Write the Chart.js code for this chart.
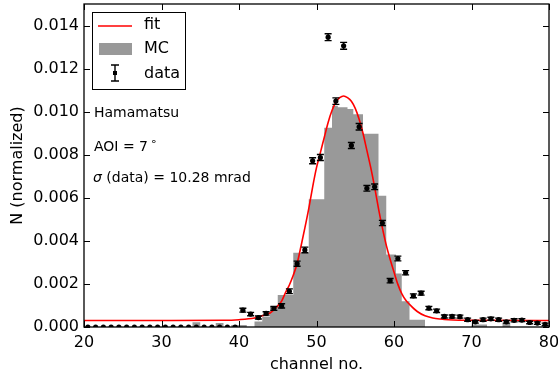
<!DOCTYPE html>
<html>
<head>
<meta charset="utf-8">
<script src="https://cdn.jsdelivr.net/npm/chart.js@4.4.0/dist/chart.umd.min.js"></script>
<style>
  html, body { margin: 0; padding: 0; background: #fff; }
</style>
</head>
<body>
<canvas id="chart" width="558" height="381"></canvas>
<script>
// measured data (channel centres) with errors
const dataX = [20.5, 21.5, 22.5, 23.5, 24.5, 25.5, 26.5, 27.5, 28.5, 29.5,
  30.5, 31.5, 32.5, 33.5, 34.5, 35.5, 36.5, 37.5, 38.5, 39.5,
  40.5, 41.5, 42.5, 43.5, 44.5, 45.5, 46.5, 47.5, 48.5, 49.5,
  50.5, 51.5, 52.5, 53.5, 54.5, 55.5, 56.5, 57.5, 58.5, 59.5,
  60.5, 61.5, 62.5, 63.5, 64.5, 65.5, 66.5, 67.5, 68.5, 69.5,
  70.5, 71.5, 72.5, 73.5, 74.5, 75.5, 76.5, 77.5, 78.5, 79.5];
const dataY = [0, 0, 0, 0, 0, 0, 0, 0, 0, 0,
  0, 0, 0, 0, 0, 0, 0, 0, 0, 0,
  0.00078, 0.00060, 0.00044, 0.00063, 0.00086, 0.00098, 0.00166, 0.00294, 0.00358, 0.00772,
  0.00787, 0.01346, 0.01049, 0.01306, 0.00843, 0.00930, 0.00644, 0.00651, 0.00483, 0.00215,
  0.00318, 0.00252, 0.00145, 0.00157, 0.00088, 0.00075, 0.00049, 0.00049, 0.00048, 0.00034,
  0.00024, 0.00034, 0.00038, 0.00034, 0.00024, 0.00031, 0.00032, 0.00021, 0.00018, 0.00012];
const dataErr = [0, 0, 0, 0, 0, 0, 0, 0, 0, 0,
  0, 0, 0, 0, 0, 0, 0, 0, 0, 0,
  0.00009, 0.00008, 0.00007, 0.00008, 0.00009, 0.00010, 0.00011, 0.00012, 0.00013, 0.00014,
  0.00014, 0.00016, 0.00015, 0.00016, 0.00014, 0.00015, 0.00013, 0.00013, 0.00012, 0.00010,
  0.00011, 0.00010, 0.00009, 0.00009, 0.00008, 0.00008, 0.00007, 0.00007, 0.00007, 0.00007,
  0.00006, 0.00007, 0.00007, 0.00007, 0.00006, 0.00007, 0.00007, 0.00006, 0.00006, 0.00006];

// fit curve samples
const fitX = [20, 30, 38, 40, 42, 43, 44, 45, 45.5, 46, 46.5, 47, 47.5, 48, 48.5, 49, 49.5, 50,
  50.5, 51, 51.5, 52, 52.5, 53, 53.5, 54, 54.5, 55, 55.5, 56, 56.5, 57, 57.5, 58, 58.5, 59,
  59.5, 60, 60.5, 61, 61.5, 62, 63, 64, 65, 66, 67, 70, 80];
const fitY = [0.00030, 0.00030, 0.00031, 0.00034, 0.00042, 0.00052, 0.00065, 0.00098, 0.00120,
  0.00160, 0.00195, 0.00240, 0.00295, 0.00375, 0.00460, 0.00550, 0.00650, 0.00740, 0.00810,
  0.00880, 0.00950, 0.01005, 0.01045, 0.01065, 0.01073, 0.01065, 0.01048, 0.01015, 0.00965,
  0.00900, 0.00820, 0.00740, 0.00650, 0.00550, 0.00460, 0.00380, 0.00315, 0.00255, 0.00198,
  0.00155, 0.00125, 0.00105, 0.00072, 0.00052, 0.00042, 0.00037, 0.00034, 0.00031, 0.00030];

// MC histogram: bin edges and bin contents
const mcEdges = [20, 34, 35, 37, 38, 39, 41, 42, 43, 44, 45, 47, 49, 51, 52, 52.75, 54, 54.75,
  56, 58, 59, 60.25, 61, 62, 64, 70, 72, 74, 75, 80];
const mcHeights = [0, 0.00022, 0, 0.00018, 0, 0.00009, 0, 0.00026, 0.00049, 0.00095, 0.00149,
  0.00345, 0.00593, 0.00925, 0.01028, 0.01020, 0.01012, 0.00988, 0.00898, 0.00610, 0.00337,
  0.00249, 0.00120, 0.00034, 0, 0.00012, 0, 0.00020, 0];

const xTicks = [20, 30, 40, 50, 60, 70, 80];
const yTicks = [0, 0.002, 0.004, 0.006, 0.008, 0.010, 0.012, 0.014];

const FONT = "'DejaVu Sans', sans-serif";
Chart.defaults.font.family = FONT;
Chart.defaults.color = '#000';

const mcPoints = mcEdges.map((e, i) => ({ x: e, y: i < mcHeights.length ? mcHeights[i] : 0 }));
const fitPoints = fitX.map((v, i) => ({ x: v, y: fitY[i] }));
const dataPoints = dataX.map((v, i) => ({ x: v, y: dataY[i] }));

// error bars for the data points
const errorBars = {
  id: 'errorBars',
  afterDatasetsDraw(chart) {
    const { ctx, chartArea: a, scales: { x, y } } = chart;
    ctx.save();
    ctx.beginPath();
    ctx.rect(a.left, a.top, a.right - a.left, a.bottom - a.top);
    ctx.clip();
    ctx.strokeStyle = '#000';
    ctx.lineWidth = 1.4;
    dataX.forEach((cx, i) => {
      if (!dataErr[i]) return;
      const px = x.getPixelForValue(cx);
      const y1 = y.getPixelForValue(dataY[i] - dataErr[i]);
      const y2 = y.getPixelForValue(dataY[i] + dataErr[i]);
      ctx.beginPath();
      ctx.moveTo(px, y1); ctx.lineTo(px, y2);
      ctx.moveTo(px - 3.5, y1); ctx.lineTo(px + 3.5, y1);
      ctx.moveTo(px - 3.5, y2); ctx.lineTo(px + 3.5, y2);
      ctx.stroke();
    });
    ctx.restore();
  }
};

// matplotlib style frame with inward ticks on all sides
const frame = {
  id: 'frame',
  afterDatasetsDraw(chart) {
    const { ctx, chartArea: a, scales: { x, y } } = chart;
    ctx.save();
    ctx.strokeStyle = '#000';
    ctx.lineWidth = 1;
    ctx.beginPath();
    xTicks.forEach(t => {
      const px = Math.round(x.getPixelForValue(t)) + 0.5;
      ctx.moveTo(px, a.bottom); ctx.lineTo(px, a.bottom - 6);
      ctx.moveTo(px, a.top); ctx.lineTo(px, a.top + 6);
    });
    yTicks.forEach(t => {
      const py = Math.round(y.getPixelForValue(t)) + 0.5;
      ctx.moveTo(a.left, py); ctx.lineTo(a.left + 6, py);
      ctx.moveTo(a.right, py); ctx.lineTo(a.right - 6, py);
    });
    ctx.stroke();
    ctx.lineWidth = 1.3;
    ctx.strokeRect(a.left, a.top, a.right - a.left, a.bottom - a.top);
    ctx.restore();
  }
};

// legend box and text annotations
const notes = {
  id: 'notes',
  afterDraw(chart) {
    const { ctx, chartArea: a } = chart;
    const lx = a.left + 8, ly = a.top + 8;
    ctx.save();
    ctx.fillStyle = '#fff';
    ctx.fillRect(lx, ly, 93, 77);
    ctx.strokeStyle = '#000';
    ctx.lineWidth = 1;
    ctx.strokeRect(lx + 0.5, ly + 0.5, 93, 77);

    ctx.strokeStyle = '#ff0000';
    ctx.lineWidth = 1.5;
    ctx.beginPath();
    ctx.moveTo(lx + 6, ly + 14); ctx.lineTo(lx + 40, ly + 14);
    ctx.stroke();

    ctx.fillStyle = '#999999';
    ctx.fillRect(lx + 7, ly + 31, 33, 12);

    const ex = lx + 23;
    ctx.strokeStyle = '#000';
    ctx.lineWidth = 1.4;
    ctx.beginPath();
    ctx.moveTo(ex, ly + 53); ctx.lineTo(ex, ly + 69);
    ctx.moveTo(ex - 4, ly + 53); ctx.lineTo(ex + 4, ly + 53);
    ctx.moveTo(ex - 4, ly + 69); ctx.lineTo(ex + 4, ly + 69);
    ctx.stroke();
    ctx.fillStyle = '#000';
    ctx.fillRect(ex - 2, ly + 59, 4, 4);

    ctx.font = '16px ' + FONT;
    ctx.textBaseline = 'middle';
    ctx.fillText('fit', lx + 52, ly + 13);
    ctx.fillText('MC', lx + 52, ly + 37);
    ctx.fillText('data', lx + 52, ly + 62);

    ctx.font = '14px ' + FONT;
    ctx.textBaseline = 'alphabetic';
    const tx = a.left + 10;
    ctx.fillText('Hamamatsu', tx, a.top + 113);
    ctx.fillText('AOI = 7', tx, a.top + 147);
    const w7 = ctx.measureText('AOI = 7').width;
    ctx.font = '11px ' + FONT;
    ctx.fillText('\u2218', tx + w7 + 2, a.top + 141);
    ctx.font = 'italic 14px ' + FONT;
    ctx.fillText('\u03c3', tx - 1, a.top + 178);
    const ws = ctx.measureText('\u03c3').width;
    ctx.font = '14px ' + FONT;
    ctx.fillText(' (data) = 10.28 mrad', tx - 1 + ws, a.top + 178);
    ctx.restore();
  }
};

new Chart(document.getElementById('chart'), {
  type: 'line',
  data: {
    datasets: [
      {
        label: 'data',
        data: dataPoints,
        showLine: false,
        pointRadius: 2.6,
        pointBackgroundColor: '#000',
        pointBorderColor: '#000',
        pointBorderWidth: 0,
        clip: 0
      },
      {
        label: 'fit',
        data: fitPoints,
        borderColor: '#ff0000',
        borderWidth: 1.6,
        pointRadius: 0,
        cubicInterpolationMode: 'monotone',
        fill: false
      },
      {
        label: 'MC',
        data: mcPoints,
        stepped: true,
        borderWidth: 0,
        borderColor: 'rgba(0,0,0,0)',
        backgroundColor: '#999999',
        pointRadius: 0,
        fill: 'origin'
      }
    ]
  },
  options: {
    responsive: false,
    animation: false,
    events: [],
    layout: { padding: { top: 2, right: 9, left: 0, bottom: 0 } },
    plugins: { legend: { display: false }, tooltip: { enabled: false } },
    scales: {
      x: {
        type: 'linear',
        min: 20,
        max: 80,
        afterBuildTicks: s => { s.ticks = xTicks.map(v => ({ value: v })); },
        afterFit: s => { s.height = 54; s.paddingLeft = 0; s.paddingRight = 0; },
        grid: { display: false, drawTicks: false },
        border: { display: false },
        ticks: { font: { size: 16 }, padding: 6, maxRotation: 0, callback: v => String(v) },
        title: { display: true, text: 'channel no.', font: { size: 16 }, padding: { top: 0, bottom: 7 } }
      },
      y: {
        type: 'linear',
        min: 0,
        max: 0.015,
        afterBuildTicks: s => { s.ticks = yTicks.map(v => ({ value: v })); },
        afterFit: s => { s.width = 84; s.paddingTop = 0; s.paddingBottom = 0; },
        grid: { display: false, drawTicks: false },
        border: { display: false },
        ticks: { font: { size: 16 }, padding: 5, callback: v => v.toFixed(3) },
        title: { display: true, text: 'N (normalized)', font: { size: 16 }, padding: { top: 8, bottom: 0 } }
      }
    }
  },
  plugins: [errorBars, frame, notes]
});
</script>
</body>
</html>
